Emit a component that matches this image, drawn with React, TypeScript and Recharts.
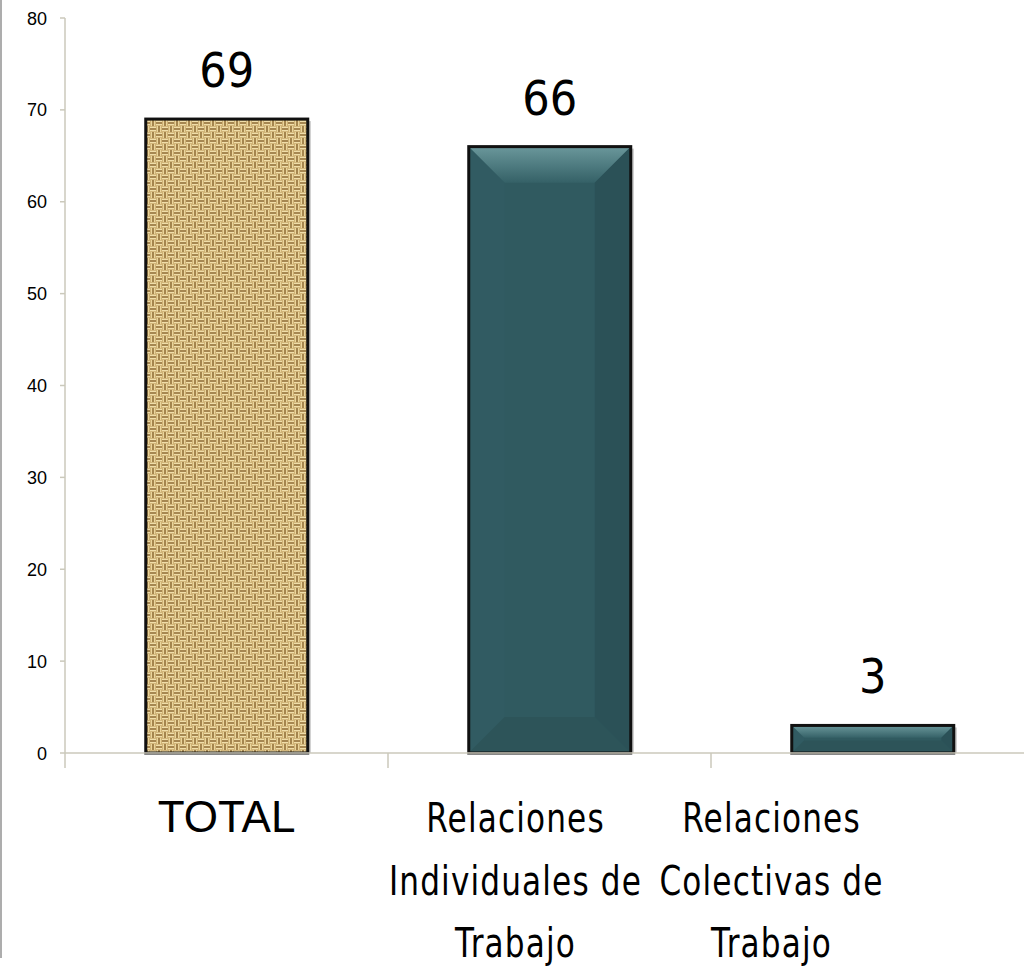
import { Bar, BarChart, LabelList, XAxis, YAxis } from "recharts"

const categories = ["TOTAL", "Relaciones\nIndividuales de\nTrabajo", "Relaciones\nColectivas de\nTrabajo"]
const values = [69, 66, 3]
const yTicks = [0, 10, 20, 30, 40, 50, 60, 70, 80]

const data = categories.map((name, i) => ({ name, value: values[i] }))

const AXIS = "#cbc9bb"
// the wrapped labels in the original sit left of their bar centre
const tickNudge = [0, -34, -101]

function BurlapBar({ x, y, width, height }: any) {
  if (!height || height <= 0) return null
  return (
    <g>
      <defs>
        <pattern id="burlap" width="12" height="12" patternUnits="userSpaceOnUse">
          <rect width="12" height="12" fill="#c9a96b" />
          <path d="M0 1.5h6M0 4.5h6M6 7.5h6M6 10.5h6" stroke="#f0deaa" strokeWidth="1.4" />
          <path d="M0 3h6M6 9h6" stroke="#7a5827" strokeWidth="1.1" />
          <path d="M7.5 0v6M10.5 0v6M1.5 6v6M4.5 6v6" stroke="#ead59d" strokeWidth="1.4" />
          <path d="M9 0v6M3 6v6" stroke="#82602d" strokeWidth="1.1" />
        </pattern>
      </defs>
      <rect x={x + 3} y={y + 2} width={width} height={height - 2} fill="#c4c4c4" />
      <rect x={x} y={y} width={width} height={height} fill="url(#burlap)" stroke="#111" strokeWidth={3} />
    </g>
  )
}

function BevelBar({ x, y, width, height, index }: any) {
  if (!height || height <= 0) return null
  const b = Math.min(36, height * 0.45, width * 0.3)
  const w = width
  const h = height
  const gid = `bevelTop${index}`
  return (
    <g>
      <defs>
        <linearGradient id={gid} x1="0" y1="0" x2="0" y2="1">
          <stop offset="0%" stopColor="#6a979b" />
          <stop offset="100%" stopColor="#356167" />
        </linearGradient>
      </defs>
      <rect x={x + 3} y={y + 2} width={w} height={h - 2} fill="#c4c4c4" />
      <rect x={x} y={y} width={w} height={h} fill="#305a60" />
      <polygon points={`${x},${y} ${x + w},${y} ${x + w - b},${y + b} ${x + b},${y + b}`} fill={`url(#${gid})`} />
      <polygon points={`${x},${y} ${x + b},${y + b} ${x + b},${y + h - b} ${x},${y + h}`} fill="#34606650" />
      <polygon points={`${x + w},${y} ${x + w},${y + h} ${x + w - b},${y + h - b} ${x + w - b},${y + b}`} fill="#2b5157" />
      <polygon points={`${x},${y + h} ${x + b},${y + h - b} ${x + w - b},${y + h - b} ${x + w},${y + h}`} fill="#2d5459" />
      <rect x={x} y={y} width={w} height={h} fill="none" stroke="#111" strokeWidth={3} />
    </g>
  )
}

function BarShape(props: any) {
  return props.index === 0 ? <BurlapBar {...props} /> : <BevelBar {...props} />
}

function ValueLabel({ x, y, width, value }: any) {
  const cx = Number(x) + Number(width) / 2
  return (
    <text
      transform={`translate(${cx} ${Number(y) - 32}) scale(0.9 1)`}
      textAnchor="middle"
      fontFamily="DejaVu Sans"
      fontSize={48}
      fill="#000"
    >
      {value}
    </text>
  )
}

function ValueTick({ x, y, payload }: any) {
  return (
    <text x={x} y={y} dy={6.5} textAnchor="end" fontFamily="Liberation Sans" fontSize={18} fill="#000">
      {payload.value}
    </text>
  )
}

function CategoryTick({ x, y, payload, index, width, visibleTicksCount }: any) {
  const half = payload.offset ?? width / (visibleTicksCount || 3) / 2
  const lines = String(payload.value).split("\n")
  const single = lines.length === 1
  const cx = x + (tickNudge[index] ?? 0)
  return (
    <g>
      <line x1={x - half} x2={x - half} y1={y} y2={y + 15} stroke={AXIS} strokeWidth={1.5} />
      {lines.map((line, i) => (
        <text
          key={i}
          transform={`translate(${cx} ${y + 79 + i * 62.5}) scale(${single ? 1 : 0.76} 1)`}
          textAnchor="middle"
          fontFamily={single ? "Liberation Sans" : "DejaVu Sans"}
          fontSize={single ? 44 : 41}
          letterSpacing={single ? 0 : 1.5}
          fill="#000"
        >
          {line}
        </text>
      ))}
    </g>
  )
}

export default function App() {
  return (
    <div
      style={{
        position: "fixed",
        left: 0,
        top: 0,
        width: 1024,
        height: 970,
        overflow: "hidden",
        background: "#fff",
      }}
    >
      <div style={{ position: "absolute", left: 0, top: 0, width: 2, height: 958, background: "#adadad" }} />
      <div style={{ position: "absolute", left: 0, top: 0 }}>
        <BarChart
          width={1040}
          height={970}
          data={data}
          margin={{ top: 18, right: 6, left: 0, bottom: 0 }}
          barCategoryGap="25%"
        >
          <XAxis
            dataKey="name"
            height={217}
            interval={0}
            axisLine={{ stroke: AXIS, strokeWidth: 1.5 }}
            tickLine={false}
            tickSize={0}
            tickMargin={0}
            tick={<CategoryTick />}
          />
          <YAxis
            width={65}
            domain={[0, 80]}
            ticks={yTicks}
            interval={0}
            axisLine={{ stroke: AXIS, strokeWidth: 1.5 }}
            tickLine={{ stroke: AXIS, strokeWidth: 1.5 }}
            tickSize={5}
            tickMargin={13}
            tick={<ValueTick />}
          />
          <Bar dataKey="value" isAnimationActive={false} shape={<BarShape />}>
            <LabelList dataKey="value" content={<ValueLabel />} />
          </Bar>
        </BarChart>
      </div>
    </div>
  )
}
